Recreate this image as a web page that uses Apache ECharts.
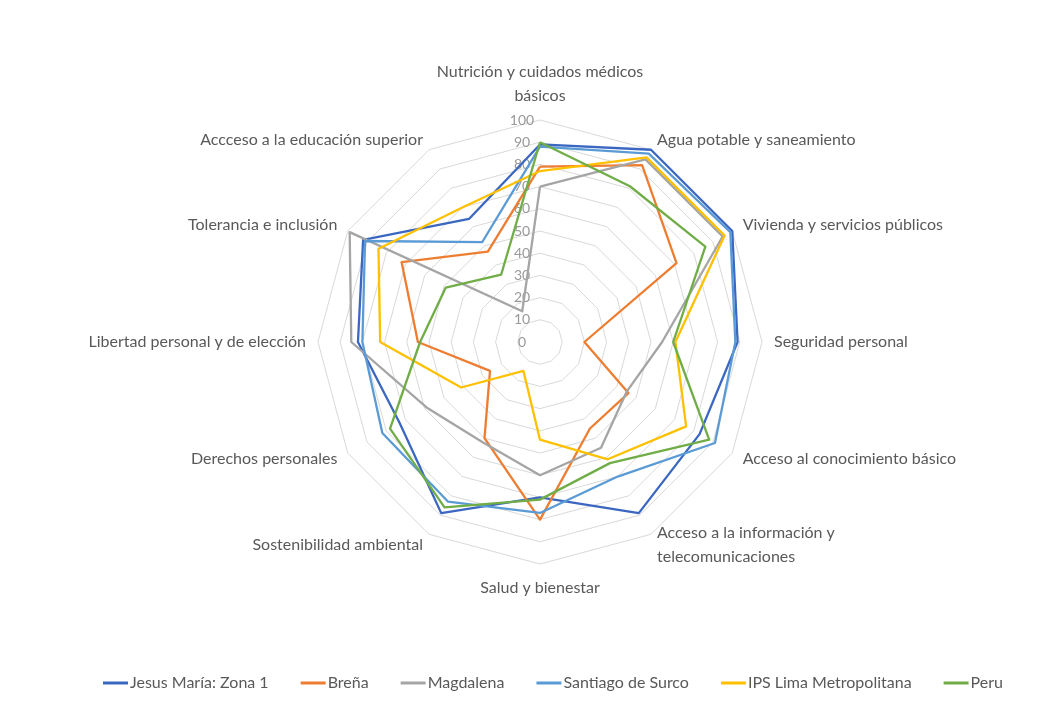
<!DOCTYPE html>
<html>
<head>
<meta charset="utf-8">
<script src="https://cdn.jsdelivr.net/npm/echarts@6/dist/echarts.min.js"></script>
<style>
html,body{margin:0;padding:0;background:#fff;}
#chart{width:1062px;height:702px;}
</style>
</head>
<body>
<div id="chart"></div>
<script>
const indicators = [
  "Nutrición y cuidados médicos\nbásicos",
  "Agua potable y saneamiento",
  "Vivienda y servicios públicos",
  "Seguridad personal",
  "Acceso al conocimiento básico",
  "Acceso a la información y\ntelecomunicaciones",
  "Salud y bienestar",
  "Sostenibilidad ambiental",
  "Derechos personales",
  "Libertad personal y de elección",
  "Tolerancia e inclusión",
  "Accceso a la educación superior"
];
const seriesNames = ["Jesus María: Zona 1", "Breña", "Magdalena", "Santiago de Surco", "IPS Lima Metropolitana", "Peru"];
const jesusMaria = [89, 100, 100, 89, 83, 89, 70, 89, 73, 82, 92, 64];
const brena      = [79, 92, 71, 20, 46, 45, 80, 50, 26, 55, 72, 47];
const magdalena  = [70, 95, 95, 55, 45, 55, 60, 52, 59, 85, 99, 16];
const surco      = [88, 98, 99, 88, 91, 70, 77, 83, 82, 80, 91, 52];
const ipsLima    = [77, 96, 96, 61, 76, 61, 44, 15, 41, 72, 84, 70];
const peru       = [90, 81, 86, 60, 88, 63, 71, 86, 78, 54, 49, 35];
const colors = ["#3b67c0", "#ed7d31", "#a5a5a5", "#5b9bd5", "#ffc000", "#70ad47"];
const allValues = [jesusMaria, brena, magdalena, surco, ipsLima, peru];

// ECharts lays indicators counter-clockwise; reorder so they run clockwise like the original
const order = [0].concat(indicators.map((_, i) => i).slice(1).reverse());
const reorder = arr => order.map(i => arr[i]);

const chart = echarts.init(document.getElementById('chart'));
const font = 'Lato, "Open Sans", sans-serif';
const option = {
  backgroundColor: '#ffffff',
  color: colors,
  legend: {
    data: seriesNames,
    bottom: 6,
    left: 98,
    itemGap: 32,
    itemWidth: 25,
    itemHeight: 3,
    icon: 'rect',
    textStyle: {color: '#595959', fontSize: 16, fontFamily: font, padding: [0, 0, 0, -3]}
  },
  radar: {
    center: [540, 342],
    radius: 222,
    startAngle: 90,
    splitNumber: 10,
    shape: 'polygon',
    nameGap: 12,
    axisName: {color: '#595959', fontSize: 16, fontFamily: font, lineHeight: 24},
    splitLine: {lineStyle: {color: '#d9d9d9', width: 1}},
    splitArea: {show: false},
    axisLine: {show: false},
    axisTick: {show: false},
    axisLabel: {show: false},
    indicator: reorder(indicators).map((n, i) => {
      const o = {name: n, min: 0, max: 100};
      if (i === 0) {
        o.axisLabel = {show: true, color: '#999999', fontSize: 14, fontFamily: font, align: 'center', margin: 18, showMinLabel: true, showMaxLabel: true};
      }
      return o;
    })
  },
  series: [{
    type: 'radar',
    symbol: 'none',
    data: seriesNames.map((n, i) => ({
      name: n,
      value: reorder(allValues[i]),
      lineStyle: {width: 2.3, color: colors[i]},
      itemStyle: {color: colors[i]}
    }))
  }]
};
chart.setOption(option);
</script>
</body>
</html>
